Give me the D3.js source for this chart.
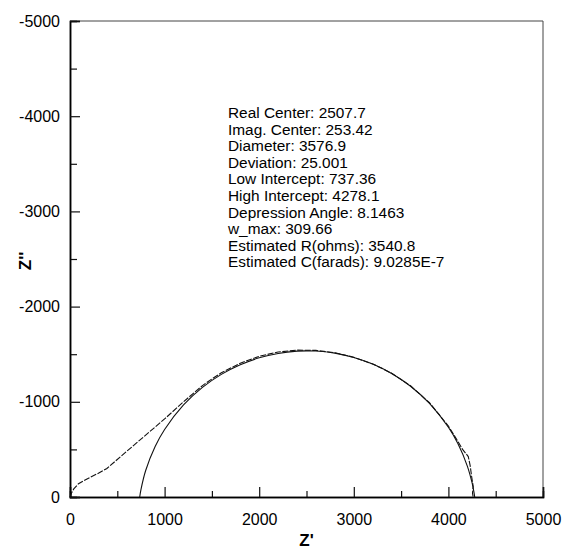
<!DOCTYPE html>
<html>
<head>
<meta charset="utf-8">
<script src="https://cdn.jsdelivr.net/npm/d3@7"></script>
<style>
  body { margin: 0; background: #fff; }
  svg { display: block; font-family: "Liberation Sans", Arial, sans-serif; }
</style>
</head>
<body>
<svg id="chart" width="564" height="554"></svg>
<script>
// measured impedance, Z' and Z'' (ohms)
const zReal = [0, 15, 40, 90, 180, 300, 390, 600, 800, 1000, 1200, 1400, 1500, 1600, 1800, 2000, 2200, 2400, 2600, 2800, 3000, 3200, 3400, 3600, 3800, 4000, 4100, 4150, 4210, 4230, 4246, 4262, 4255, 4262]
const zImag = [0, -40, -85, -140, -190, -250, -300, -480, -650, -820, -1000, -1170, -1240, -1305, -1405, -1478, -1523, -1543, -1540, -1515, -1468, -1398, -1300, -1168, -990, -745, -585, -500, -425, -330, -213, -110, -40, 0]

// fitted semicircle
const fitReal = [737, 750, 800, 900, 1000, 1200, 1400, 1600, 1800, 2000, 2200, 2400, 2508, 2600, 2800, 3000, 3200, 3400, 3600, 3800, 4000, 4100, 4200, 4250, 4270, 4278]
const fitImag = [0, -77, -278, -530, -709, -967, -1151, -1288, -1389, -1462, -1508, -1532, -1535, -1533, -1511, -1466, -1396, -1297, -1163, -983, -732, -561, -325, -150, -51, 0]

const xTicks = [0, 1000, 2000, 3000, 4000, 5000]
const yTicks = [0, -1000, -2000, -3000, -4000, -5000]
const xMinor = [500, 1500, 2500, 3500, 4500]
const yMinor = [-500, -1500, -2500, -3500, -4500]

const fitLabels = [
    "Real Center: 2507.7",
    "Imag. Center: 253.42",
    "Diameter: 3576.9",
    "Deviation: 25.001",
    "Low Intercept: 737.36",
    "High Intercept: 4278.1",
    "Depression Angle: 8.1463",
    "w_max: 309.66",
    "Estimated R(ohms): 3540.8",
    "Estimated C(farads): 9.0285E-7"
]

const svg = d3.select("#chart")
const plot = { left: 70, right: 543, top: 21, bottom: 497 }

const x = d3.scaleLinear().domain([0, 5000]).range([plot.left, plot.right])
const y = d3.scaleLinear().domain([0, -5000]).range([plot.bottom, plot.top])

// frame: top and right thin, left and bottom drawn by the axes
svg.append("path")
    .attr("d", "M" + plot.left + "," + plot.top + "H" + plot.right + "V" + plot.bottom)
    .attr("fill", "none")
    .attr("stroke", "#444")
    .attr("stroke-width", 1)

function styleAxis(g, size) {
    g.select(".domain").attr("stroke", "#000").attr("stroke-width", 1.5)
    g.selectAll(".tick line").attr("stroke", "#111").attr("stroke-width", 1.2)
    g.selectAll("text").attr("font-size", size).attr("fill", "#000")
}

// minor ticks
svg.append("g")
    .attr("transform", "translate(0," + plot.bottom + ")")
    .call(d3.axisBottom(x).tickValues(xMinor).tickSize(-6).tickFormat(""))
    .call(g => styleAxis(g, 0))
svg.append("g")
    .attr("transform", "translate(" + plot.left + ",0)")
    .call(d3.axisLeft(y).tickValues(yMinor).tickSize(-7).tickFormat(""))
    .call(g => styleAxis(g, 0))

// major ticks and labels
svg.append("g")
    .attr("transform", "translate(0," + plot.bottom + ")")
    .call(d3.axisBottom(x).tickValues(xTicks).tickSize(-10).tickPadding(17).tickFormat(d => String(d)))
    .call(g => styleAxis(g, 16))
svg.append("g")
    .attr("transform", "translate(" + plot.left + ",0)")
    .call(d3.axisLeft(y).tickValues(yTicks).tickSize(-10).tickPadding(10).tickFormat(d => String(d)))
    .call(g => styleAxis(g, 16))

// axis titles
svg.append("text")
    .attr("x", (plot.left + plot.right) / 2)
    .attr("y", 546)
    .attr("text-anchor", "middle")
    .attr("font-size", 17)
    .attr("font-weight", "bold")
    .text("Z'")
svg.append("text")
    .attr("transform", "translate(31," + ((plot.top + plot.bottom) / 2 + 2) + ") rotate(-90)")
    .attr("text-anchor", "middle")
    .attr("font-size", 17)
    .attr("font-weight", "bold")
    .text("Z''")

// curves
const line = d3.line()
    .x(d => x(d[0]))
    .y(d => y(d[1]))

svg.append("path")
    .datum(d3.zip(fitReal, fitImag))
    .attr("d", line.curve(d3.curveCatmullRom.alpha(0.5)))
    .attr("fill", "none")
    .attr("stroke", "#111")
    .attr("stroke-width", 1.1)

svg.append("path")
    .datum(d3.zip(zReal, zImag))
    .attr("d", line.curve(d3.curveLinear))
    .attr("fill", "none")
    .attr("stroke", "#111")
    .attr("stroke-width", 1.1)
    .attr("stroke-dasharray", "6,1.5")

// fit results
svg.append("g")
    .selectAll("text")
    .data(fitLabels)
    .join("text")
    .attr("x", 228)
    .attr("y", (d, i) => 118 + i * 16.6)
    .attr("font-size", 15.4)
    .attr("fill", "#000")
    .text(d => d)
</script>
</body>
</html>
